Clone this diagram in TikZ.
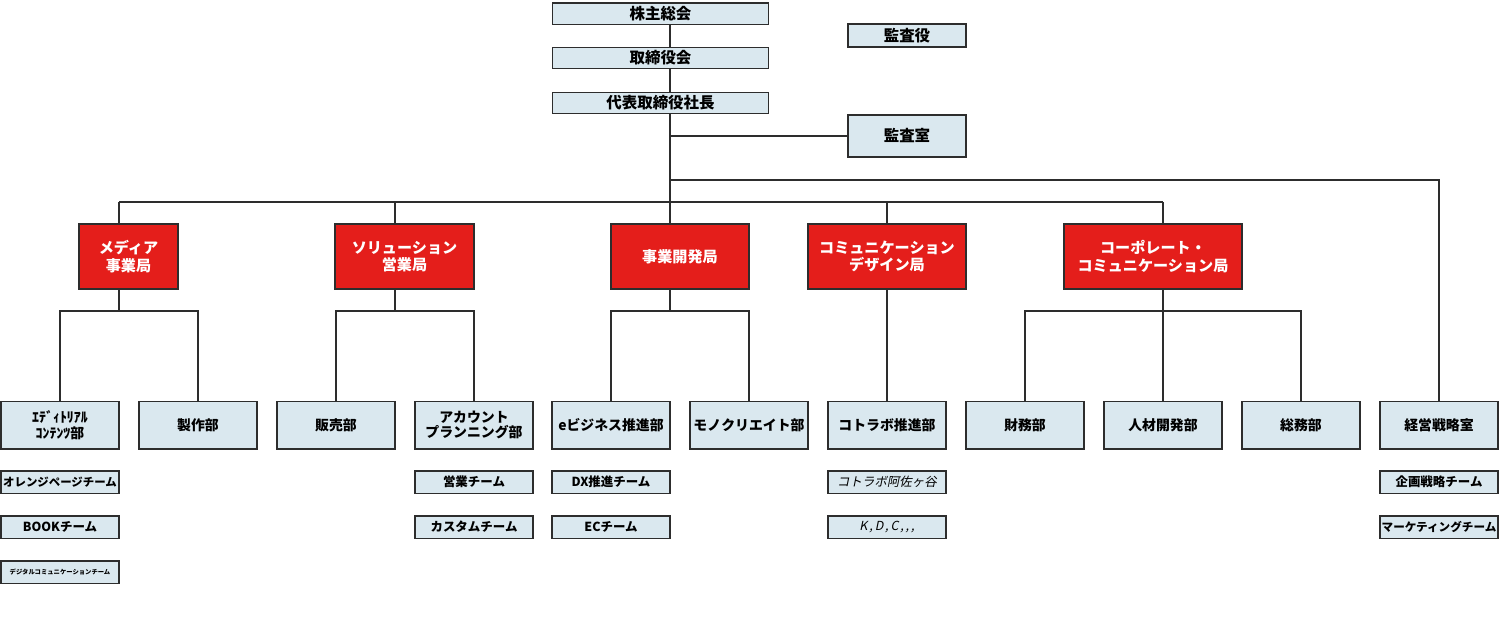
\documentclass[tikz,border=0pt]{standalone}
\usepackage{fontspec}
\setmainfont{Noto Sans CJK JP}[AutoFakeSlant=0.2]
\usepackage{tikz}
\definecolor{paleblue}{RGB}{218,232,239}
\definecolor{bureaured}{RGB}{228,30,27}
\definecolor{linegray}{RGB}{45,45,45}

\begin{document}
\begin{tikzpicture}[x=0.02cm, y=-0.02cm,
  box/.style={draw=linegray, line width=0.85pt, fill=paleblue, inner sep=0pt, align=center,
              font=\fontsize{8.8}{10}\selectfont\bfseries},
  head/.style={box, minimum width=4.32cm, minimum height=0.43cm},
  audit/.style={box, minimum width=2.36cm},
  kyoku/.style={box, fill=bureaured, text=white, minimum height=1.3cm,
                font=\fontsize{8.6}{10}\selectfont\bfseries},
  bu/.style={box, minimum width=2.36cm, minimum height=0.95cm,
             font=\fontsize{7.9}{9}\selectfont\bfseries},
  team/.style={box, minimum width=2.36cm, minimum height=0.45cm,
               font=\fontsize{7.1}{8}\selectfont\bfseries},
  conn/.style={draw=linegray, line width=0.85pt}]
\useasboundingbox (0,0) rectangle (1500,629);

% top of the tree
\node[head] (sh)   at (660.5,13.5) {株主総会};
\node[head] (bd)   at (660.5,58)   {取締役会};
\node[head] (ceo)  at (660.5,103)  {代表取締役社長};
\node[audit, minimum height=0.46cm] (kyk) at (907,35.5) {監査役};
\node[audit, minimum height=0.84cm] (ksh) at (907,136)  {監査室};

% bureaus
\node[kyoku, minimum width=1.98cm] (media) at (128.5,256.5) {メディア\\事業局};
\node[kyoku, minimum width=2.78cm] (sol)   at (404.5,256.5) {ソリューション\\営業局};
\node[kyoku, minimum width=2.76cm] (jigyo) at (680,256.5)   {事業開発局};
\node[kyoku, minimum width=3.16cm] (comm)  at (887,256.5)   {コミュニケーション\\デザイン局};
\node[kyoku, minimum width=3.56cm] (corp)  at (1153,256.5)  {コーポレート・\\コミュニケーション局};

% departments
\node[bu] (ed)    at (60,425)   {ｴﾃﾞｨﾄﾘｱﾙ\\ｺﾝﾃﾝﾂ部};
\node[bu] (sei)   at (198,425)  {製作部};
\node[bu] (han)   at (336,425)  {販売部};
\node[bu] (acc)   at (474,425)  {アカウント\\プランニング部};
\node[bu] (ebiz)  at (611,425)  {eビジネス推進部};
\node[bu] (mono)  at (749,425)  {モノクリエイト部};
\node[bu] (kot)   at (887,425)  {コトラボ推進部};
\node[bu] (zai)   at (1025,425) {財務部};
\node[bu] (jin)   at (1163,425) {人材開発部};
\node[bu] (somu)  at (1301,425) {総務部};
\node[bu] (keiei) at (1439,425) {経営戦略室};

% teams
\node[team, font=\fontsize{6.5}{7}\selectfont\bfseries] (orange) at (60,482) {オレンジページチーム};
\node[team] (book)    at (60,527)   {BOOKチーム};
\node[team, font=\fontsize{3.6}{4}\selectfont\bfseries] (digi) at (60,572) {デジタルコミュニケーションチーム};
\node[team] (eigyo)   at (474,482)  {営業チーム};
\node[team] (custom)  at (474,527)  {カスタムチーム};
\node[team] (dx)      at (611,482)  {DX推進チーム};
\node[team] (ec)      at (611,527)  {ECチーム};
\node[team, font=\fontsize{7.1}{8}\selectfont\itshape] (asa) at (887,482) {コトラボ阿佐ヶ谷};
\node[team, font=\fontsize{7.1}{8}\selectfont\itshape\addfontfeature{LetterSpace=15}] (kdc) at (887,527) {K,D,C,{},{},};
\node[team] (kikaku)  at (1439,482) {企画戦略チーム};
\node[team, font=\fontsize{6.6}{7}\selectfont\bfseries] (mkt) at (1439,527) {マーケティングチーム};

% connector levels and stems
\coordinate (tk)  at (670,0);
\coordinate (br)  at (670,180);
\coordinate (bus) at (0,202);
\coordinate (bar) at (0,311);
\coordinate (ms)  at (119,0);
\coordinate (ss)  at (395,0);
\coordinate (cs)  at (887,0);
\coordinate (ks)  at (1163,0);

\draw[conn] (sh.south -| tk) -- (bd.north -| tk);
\draw[conn] (bd.south -| tk) -- (ceo.north -| tk);
\draw[conn] (ceo.south -| tk) -- (jigyo.north -| tk);
\draw[conn] (tk |- ksh.west) -- (ksh.west);
\draw[conn] (br) -| (keiei.north);
\draw[conn] (ms |- bus) -- (ks |- bus);
\foreach \s/\k in {ms/media, ss/sol, cs/comm, ks/corp}
  \draw[conn] (\s |- bus) -- (\s |- \k.north);

\draw[conn] (ms |- media.south) -- (ms |- bar);
\draw[conn] (ed.north) |- (ms |- bar) -| (sei.north);
\draw[conn] (ss |- sol.south) -- (ss |- bar);
\draw[conn] (han.north) |- (ss |- bar) -| (acc.north);
\draw[conn] (tk |- jigyo.south) -- (tk |- bar);
\draw[conn] (ebiz.north) |- (tk |- bar) -| (mono.north);
\draw[conn] (comm.south) -- (kot.north);
\draw[conn] (ks |- corp.south) -- (jin.north);
\draw[conn] (zai.north) |- (ks |- bar) -| (somu.north);
\end{tikzpicture}
\end{document}
